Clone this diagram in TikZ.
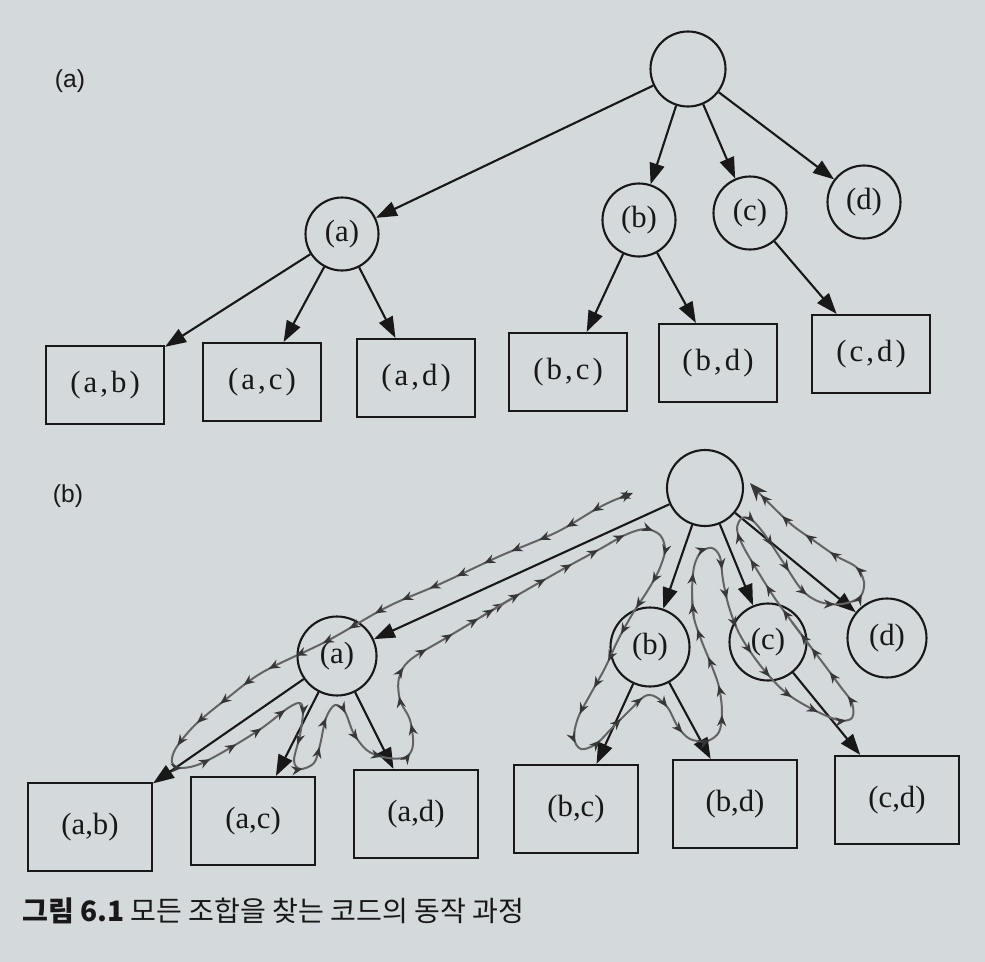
\documentclass[tikz,border=0pt]{standalone}
\usepackage{fontspec}
\setmainfont{Liberation Serif}
\newfontfamily\panelfont{Liberation Sans}
\newfontfamily\spacedfont[LetterSpace=10]{Liberation Serif}
\newfontfamily\capfont{Noto Sans CJK KR}
\usepackage{tikz}
\usetikzlibrary{arrows.meta, decorations.markings}

\definecolor{paper}{RGB}{212,217,219}
\definecolor{ink}{RGB}{24,24,24}
\definecolor{tourgray}{RGB}{100,100,100}
\definecolor{tourtip}{RGB}{55,55,55}

\tikzset{
    setnode/.style={draw=ink, circle, line width=0.42mm, inner sep=0pt,
        minimum size=#1, text=ink, font=\fontsize{17.5}{20}\selectfont},
    setnode/.default=14.6mm,
    leafbox/.style={draw=ink, rectangle, line width=0.42mm, inner sep=0pt,
        minimum width=23.6mm, minimum height=15.6mm, text=ink,
        font=\spacedfont\fontsize{17.5}{20}\selectfont},
    bigbox/.style={leafbox, minimum width=24.8mm, minimum height=17.6mm,
        font=\fontsize{17.5}{20}\selectfont},
    childedge/.style={draw=ink, line width=0.42mm,
        -{Triangle[length=4.2mm, width=3mm]}},
    panellabel/.style={text=ink, font=\panelfont\fontsize{14}{16}\selectfont},
    tourpath/.style={draw=tourgray, line width=0.4mm, line cap=round,
        postaction={decorate},
        decoration={markings,
            mark=between positions 3mm and -2mm step 6mm
            with {\arrow[tourtip]{Stealth[length=2.2mm, width=1.8mm]}}}},
    tourstart/.style={{Stealth[length=2.4mm, width=2mm, color=tourtip]}-},
    tourend/.style={-{Stealth[length=3.6mm, width=2.8mm, color=tourtip]}}
}

\begin{document}
\begin{tikzpicture}[x=0.2mm, y=-0.2mm]
    \useasboundingbox (0,0) rectangle (985,962);
    \fill[paper] (0,0) rectangle (985,962);

    % (a) tree of the choices
    \node[panellabel] (labelA) at (70,81) {(a)};
    \node[setnode=15mm] (rootA) at (688,69) {};
    \node[setnode] (aA) at (342,234) {(a)};
    \node[setnode] (bA) at (639,220) {(b)};
    \node[setnode] (cA) at (750,213) {(c)};
    \node[setnode] (dA) at (864,202) {(d)};
    \node[leafbox] (abA) at (105,385) {(a,b)};
    \node[leafbox] (acA) at (262,382) {(a,c)};
    \node[leafbox] (adA) at (416,378) {(a,d)};
    \node[leafbox] (bcA) at (568,372) {(b,c)};
    \node[leafbox] (bdA) at (718,363) {(b,d)};
    \node[leafbox] (cdA) at (871,354) {(c,d)};
    \foreach \from/\to in {rootA/aA, rootA/bA, rootA/cA, rootA/dA,
                           aA/abA, aA/acA, aA/adA, bA/bcA, bA/bdA, cA/cdA}
        \draw[childedge] (\from) -- (\to);

    % (b) same tree, with the order of the calls
    \node[panellabel] (labelB) at (68,496) {(b)};
    \node[setnode=15.2mm] (rootB) at (705,488) {};
    \node[setnode=15.8mm] (aB) at (337,656) {(a)};
    \node[setnode=15.8mm] (bB) at (650,647) {(b)};
    \node[setnode=15.4mm] (cB) at (768,642) {(c)};
    \node[setnode=15.8mm] (dB) at (887,638) {(d)};
    \node[bigbox] (abB) at (90,827) {(a,b)};
    \node[bigbox] (acB) at (253,821) {(a,c)};
    \node[bigbox] (adB) at (416,814) {(a,d)};
    \node[bigbox] (bcB) at (576,809) {(b,c)};
    \node[bigbox] (bdB) at (735,804) {(b,d)};
    \node[bigbox] (cdB) at (897,800) {(c,d)};
    \foreach \from/\to in {rootB/aB, rootB/bB, rootB/cB, rootB/dB,
                           aB/abB, aB/acB, aB/adB, bB/bcB, bB/bdB, cB/cdB}
        \draw[childedge] (\from) -- (\to);

    % walk round the tree, in four pieces
    \draw[tourpath, tourstart] plot[smooth, tension=0.55] coordinates {
        (633,493) (600,507) (557,532) (500,556) (440,584) (387,607)
        (327,641) (263,672) (225,700) (195,725) (176,748) (172,762)
        (180,768) (200,764) (230,748) (262,728) (288,708) (300,703)
        (303,712) (300,735) (294,760) (300,769) (314,763)
        (320,745) (326,718) (335,705) (345,712)
        (354,734) (368,751) (388,758) (406,757) (413,745) (410,720)
        (400,700) (399,678) (410,660) (446,638) (481,617) (516,596)};
    \draw[tourpath] plot[smooth, tension=0.55] coordinates {
        (481,617) (516,596)
        (565,568) (600,549) (625,535) (645,529) (660,535) (665,550)
        (659,570) (648,590) (633,613) (618,640) (605,668) (590,695)
        (578,718) (574,738) (581,749) (596,744)
        (613,727) (630,710) (645,696) (656,697)
        (668,708) (678,727) (690,739) (707,741) (719,732) (722,712)
        (719,687) (711,664) (702,642) (694,618) (692,595)};
    \draw[tourpath] plot[smooth, tension=0.55] coordinates {
        (694,618) (692,595) (694,567)
        (701,552) (712,548) (720,557)
        (723,580) (729,607) (740,635) (760,665) (785,692) (812,709)
        (838,720) (852,718) (852,703)
        (840,686) (826,667) (810,646) (792,622)};
    \draw[tourpath, tourend] plot[smooth, tension=0.55] coordinates {
        (810,646) (792,622) (774,597) (757,570)
        (743,546) (737,529) (742,518) (752,520)
        (765,535) (783,562) (802,590) (820,602) (842,604) (860,597)
        (864,582) (856,567) (836,556) (813,540) (792,525) (773,507)
        (760,494) (750,483)};

    % caption
    \node[anchor=base west, inner sep=0pt, text=ink,
          font=\capfont\fontsize{16}{19}\selectfont] (caption) at (22,921)
        {\textbf{그림 6.1} 모든 조합을 찾는 코드의 동작 과정};
\end{tikzpicture}
\end{document}
